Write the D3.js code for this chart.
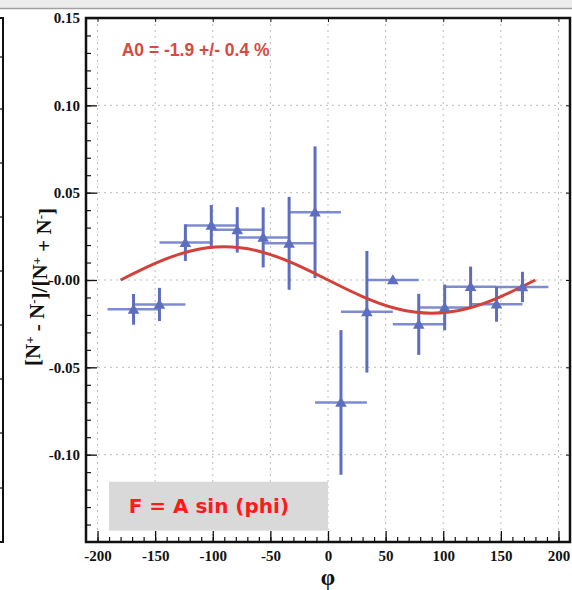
<!DOCTYPE html>
<html>
<head>
<meta charset="utf-8">
<script src="https://cdn.jsdelivr.net/npm/d3@7"></script>
<style>
  body { margin: 0; background: #fff; }
  svg { display: block; }
</style>
</head>
<body>
<div id="chart-container"></div>
<script>
// data
const phi = [-168.75, -146.25, -123.75, -101.25, -78.75, -56.25, -33.75, -11.25,
             11.25, 33.75, 56.25, 78.75, 101.25, 123.75, 146.25, 168.75];
const asym = [-0.0168, -0.0140, 0.0214, 0.0312, 0.0287, 0.0244, 0.0210, 0.0388,
              -0.0701, -0.0182, 0.0000, -0.0254, -0.0157, -0.0038, -0.0139, -0.0040];
const asymErr = [0.0088, 0.0095, 0.0105, 0.0117, 0.0130, 0.0172, 0.0266, 0.0377,
                 0.0414, 0.0348, 0.0015, 0.0175, 0.0131, 0.0115, 0.0100, 0.0087];
const phiErr = 22.5;

// fitted curve
const fitPhi = [-180, -150, -120, -90, -60, -30, 0, 30, 60, 90, 120, 150, 180];
const fitVal = [0.000, 0.0095, 0.0165, 0.0190, 0.0165, 0.0095, 0.000,
                -0.0095, -0.0165, -0.0190, -0.0165, -0.0095, 0.000];

const xTicks = [-200, -150, -100, -50, 0, 50, 100, 150, 200];
const xTickLabels = ["-200", "-150", "-100", "-50", "0", "50", "100", "150", "200"];
const yTicks = [-0.10, -0.05, 0, 0.05, 0.10, 0.15];
const yTickLabels = ["-0.10", "-0.05", "-0.00", "0.05", "0.10", "0.15"];

const W = 572, H = 590;
const margin = {top: 18, right: 2, bottom: 48, left: 86};
const width = W - margin.left - margin.right;
const height = H - margin.top - margin.bottom;

const svg = d3.select("#chart-container").append("svg")
  .attr("width", W).attr("height", H);

// window strip on top and the edge of the neighbouring panel
svg.append("rect").attr("x", 0).attr("y", 0).attr("width", W).attr("height", 8).attr("fill", "#ececec");
svg.append("line").attr("x1", 0).attr("x2", W).attr("y1", 8.5).attr("y2", 8.5)
  .attr("stroke", "#a0a0a0").attr("stroke-width", 1.5);
svg.append("path").attr("d", "M0,18H3V542H0").attr("fill", "none")
  .attr("stroke", "#111").attr("stroke-width", 2);
[57, 109, 163, 217, 271, 325, 379, 433, 488].forEach(yy => {
  svg.append("line").attr("x1", 0).attr("x2", 3).attr("y1", yy).attr("y2", yy)
    .attr("stroke", "#111").attr("stroke-width", 1.2);
});

const g = svg.append("g").attr("transform", `translate(${margin.left},${margin.top})`);

const x = d3.scaleLinear().domain([-210, 210]).range([0, width]);
const y = d3.scaleLinear().domain([-0.15, 0.15]).range([height, 0]);

// dotted grid
g.append("g").selectAll("line").data(xTicks).join("line")
  .attr("x1", d => x(d)).attr("x2", d => x(d)).attr("y1", 0).attr("y2", height)
  .attr("stroke", "#bdbdbd").attr("stroke-width", 1).attr("stroke-dasharray", "2,4");
g.append("g").selectAll("line").data(yTicks.filter(d => d < 0.15)).join("line")
  .attr("x1", 0).attr("x2", width).attr("y1", d => y(d)).attr("y2", d => y(d))
  .attr("stroke", "#bdbdbd").attr("stroke-width", 1).attr("stroke-dasharray", "2,4");

// axes: ticks point inward
const tickFont = g => g.selectAll("text")
  .attr("font-family", "'Liberation Serif', 'Times New Roman', serif")
  .attr("font-weight", "bold").attr("font-size", 15).attr("fill", "#111");

const yAxis = g.append("g")
  .call(d3.axisLeft(y).tickValues(yTicks).tickSize(-11).tickPadding(6)
    .tickFormat((d, i) => yTickLabels[i]))
  .call(tickFont);
yAxis.select(".domain").remove();
yAxis.selectAll("line").attr("stroke", "#111").attr("stroke-width", 1.3);

const yMinor = g.append("g")
  .call(d3.axisLeft(y).tickValues(d3.range(-14, 15).map(v => v / 100)).tickSize(-5).tickFormat(""));
yMinor.select(".domain").remove();
yMinor.selectAll("line").attr("stroke", "#111").attr("stroke-width", 1.2);

const xAxis = g.append("g").attr("transform", `translate(0,${height})`)
  .call(d3.axisBottom(x).tickValues(xTicks).tickSize(-11).tickPadding(5)
    .tickFormat((d, i) => xTickLabels[i]))
  .call(tickFont);
xAxis.select(".domain").remove();
xAxis.selectAll("line").attr("stroke", "#111").attr("stroke-width", 1.3);
xAxis.selectAll("text").attr("dy", "0.9em");

const xMinor = g.append("g").attr("transform", `translate(0,${height})`)
  .call(d3.axisBottom(x).tickValues(d3.range(-200, 201, 10)).tickSize(-5).tickFormat(""));
xMinor.select(".domain").remove();
xMinor.selectAll("line").attr("stroke", "#111").attr("stroke-width", 1.2);

// small ticks on top and right
const xTop = g.append("g").call(d3.axisTop(x).tickValues(xTicks).tickSize(-4).tickFormat(""));
xTop.select(".domain").remove();
xTop.selectAll("line").attr("stroke", "#111");
const yRight = g.append("g").attr("transform", `translate(${width},0)`)
  .call(d3.axisRight(y).tickValues(yTicks).tickSize(-4).tickFormat(""));
yRight.select(".domain").remove();
yRight.selectAll("line").attr("stroke", "#111");

// frame
g.append("rect").attr("width", width).attr("height", height)
  .attr("fill", "none").attr("stroke", "#111").attr("stroke-width", 2.5);

// formula box
g.append("rect")
  .attr("x", x(-190)).attr("y", y(-0.1155))
  .attr("width", x(0) - x(-190)).attr("height", y(-0.1435) - y(-0.1155))
  .attr("fill", "#d9d9d9");
g.append("text")
  .attr("x", x(-173)).attr("y", y(-0.1295)).attr("dy", "0.36em")
  .attr("font-family", "'Comic Sans MS', 'DejaVu Sans', sans-serif")
  .attr("font-weight", "bold").attr("font-size", 20).attr("fill", "#ff1a1a")
  .text("F = A sin (phi)");

// asymmetry result
g.append("text")
  .attr("x", x(-179)).attr("y", y(0.1285))
  .attr("font-family", "'Liberation Sans', Arial, sans-serif")
  .attr("font-weight", "bold").attr("font-size", 17.5).attr("fill", "#d9493f")
  .text("A0 = -1.9 +/- 0.4 %");

// data points with error bars
const pts = phi.map((p, i) => ({phi: p, val: asym[i], err: asymErr[i]}));
const blue = "#5e6ebf";

g.append("g").selectAll("line").data(pts).join("line")
  .attr("x1", d => x(d.phi - phiErr)).attr("x2", d => x(d.phi + phiErr))
  .attr("y1", d => y(d.val)).attr("y2", d => y(d.val))
  .attr("stroke", "#6f80cc").attr("stroke-width", 2.5).attr("opacity", 0.9);

g.append("g").selectAll("line").data(pts).join("line")
  .attr("x1", d => x(d.phi)).attr("x2", d => x(d.phi))
  .attr("y1", d => y(d.val + d.err)).attr("y2", d => y(d.val - d.err))
  .attr("stroke", blue).attr("stroke-width", 3);

// fit curve
const fit = fitPhi.map((p, i) => ({phi: p, val: fitVal[i]}));
g.append("path").datum(fit)
  .attr("fill", "none").attr("stroke", "#d2413a").attr("stroke-width", 3)
  .attr("d", d3.line().x(d => x(d.phi)).y(d => y(d.val)).curve(d3.curveNatural));

g.append("g").selectAll("path").data(pts).join("path")
  .attr("transform", d => `translate(${x(d.phi)},${y(d.val) + 1})`)
  .attr("d", d3.symbol(d3.symbolTriangle, 58))
  .attr("fill", blue);

// axis titles
g.append("text")
  .attr("x", x(0)).attr("y", height + 43)
  .attr("text-anchor", "middle")
  .attr("font-family", "'Liberation Serif', 'Times New Roman', serif")
  .attr("font-weight", "bold").attr("font-size", 23).attr("fill", "#111")
  .text("φ");

const yTitle = svg.append("text")
  .attr("transform", `translate(40,${287}) rotate(-90)`)
  .attr("text-anchor", "middle")
  .attr("font-family", "'Liberation Serif', 'Times New Roman', serif")
  .attr("font-weight", "bold").attr("font-size", 21).attr("fill", "#111");
yTitle.append("tspan").text("[N");
yTitle.append("tspan").attr("dy", "-0.45em").attr("font-size", 13).text("+");
yTitle.append("tspan").attr("dy", "0.45em").text(" - N");
yTitle.append("tspan").attr("dy", "-0.45em").attr("font-size", 13).text("-");
yTitle.append("tspan").attr("dy", "0.45em").text("]/[N");
yTitle.append("tspan").attr("dy", "-0.45em").attr("font-size", 13).text("+");
yTitle.append("tspan").attr("dy", "0.45em").text(" + N");
yTitle.append("tspan").attr("dy", "-0.45em").attr("font-size", 13).text("-");
yTitle.append("tspan").attr("dy", "0.45em").text("]");
</script>
</body>
</html>
